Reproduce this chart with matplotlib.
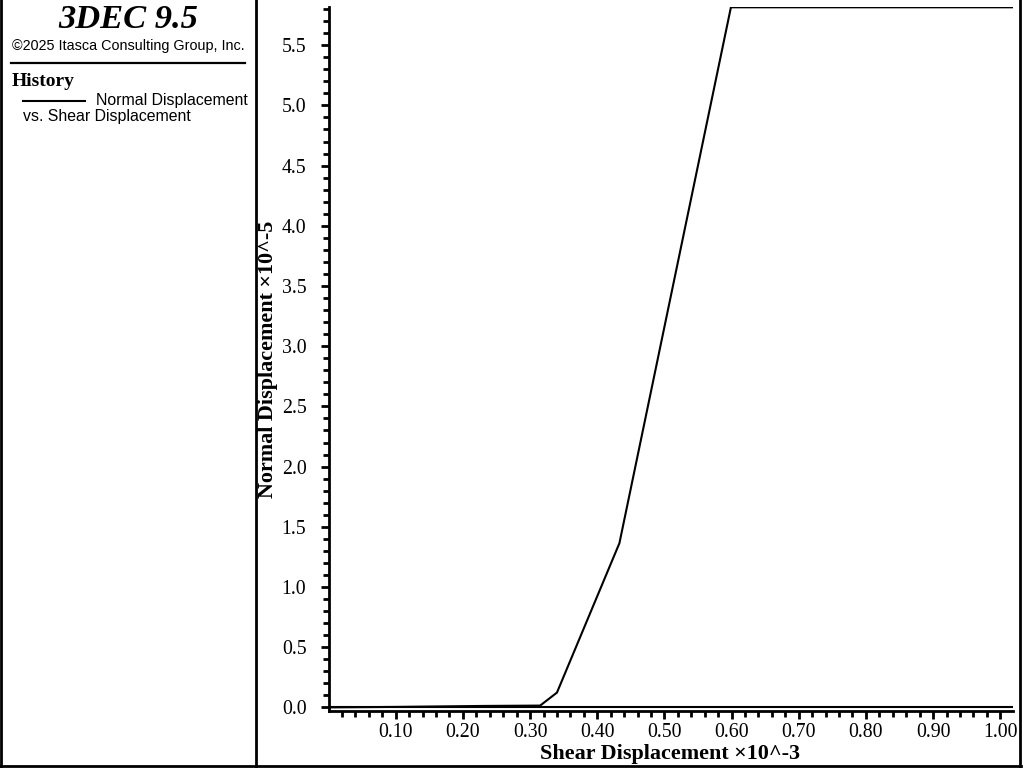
import matplotlib.pyplot as plt
import numpy as np
from matplotlib.lines import Line2D
from matplotlib.ticker import FixedLocator, FormatStrFormatter

# history: shear displacement (x1e-3) vs normal displacement (x1e-5)
shear_disp = [0.0, 0.10, 0.23, 0.315, 0.340, 0.433, 0.599, 1.019]
normal_disp = [0.0, 0.004, 0.012, 0.015, 0.123, 1.364, 5.815, 5.815]

x_major = [0.10, 0.20, 0.30, 0.40, 0.50, 0.60, 0.70, 0.80, 0.90, 1.00]
y_major = [0.0, 0.5, 1.0, 1.5, 2.0, 2.5, 3.0, 3.5, 4.0, 4.5, 5.0, 5.5]

serif = 'Liberation Serif'
sans = 'Liberation Sans'

W, H = 1024, 768
fig = plt.figure(figsize=(W / 100, H / 100), dpi=100)

# axes placed in pixel terms of the reference
left, right, top, bottom = 328.6, 1013, 7.3, 711
ax = fig.add_axes([left / W, (H - bottom) / H, (right - left) / W, (bottom - top) / H])

ax.plot(shear_disp, normal_disp, color='black', lw=1.5, solid_joinstyle='miter')
ax.axhline(0.0, color='black', lw=1.5)

ax.set_xlim(0, max(shear_disp))
ax.set_ylim(-0.03, max(normal_disp))

for side in ['top', 'right']:
    ax.spines[side].set_visible(False)
for side in ['left', 'bottom']:
    ax.spines[side].set_linewidth(2)

ax.xaxis.set_major_locator(FixedLocator(x_major))
ax.xaxis.set_minor_locator(FixedLocator([v for v in np.arange(0.02, 1.02, 0.02)
                                         if abs(v * 10 - round(v * 10)) > 1e-6]))
ax.xaxis.set_major_formatter(FormatStrFormatter('%.2f'))
ax.yaxis.set_major_locator(FixedLocator(y_major))
ax.yaxis.set_minor_locator(FixedLocator([v for v in np.arange(0.1, 5.85, 0.1)
                                         if abs(v * 2 - round(v * 2)) > 1e-6]))
ax.yaxis.set_major_formatter(FormatStrFormatter('%.1f'))

ax.tick_params(which='major', length=6, width=2, direction='out')
ax.tick_params(which='minor', length=4, width=2, direction='out')
ax.tick_params(axis='y', which='major', pad=10)
ax.tick_params(axis='x', which='major', pad=2.5)
for lab in ax.get_xticklabels() + ax.get_yticklabels():
    lab.set_fontfamily(serif)
    lab.set_fontsize(14.3)

ax.set_xlabel('Shear Displacement \u00d710^-3', fontfamily=serif, fontsize=15.9,
              fontweight='bold', va='center')
ax.xaxis.set_label_coords(0.4988, (711 - 753.5) / (711 - 7.3))
ax.set_ylabel('Normal Displacement \u00d710^-5', fontfamily=serif, fontsize=15.9,
              fontweight='bold', va='center')
ax.yaxis.set_label_coords((268 - left) / (right - left), 0.5)

# left info panel
def px_line(x0, y0, x1, y1, lw=2):
    fig.add_artist(Line2D([x0 / W, x1 / W], [1 - y0 / H, 1 - y1 / H],
                          transform=fig.transFigure, color='black', lw=lw))

px_line(1, 0, 1, 767)
px_line(256, 0, 256, 767)
px_line(0, 766, 1021, 766)
px_line(1019.5, 0, 1019.5, 767)
px_line(11, 63, 245, 63, lw=1.6)
px_line(23, 101, 85, 101, lw=1.5)

fig.text(128 / W, 1 - 19 / H, '3DEC 9.5', fontfamily=serif, fontsize=24.8,
         fontweight='bold', fontstyle='italic', ha='center', va='center')
fig.text(128 / W, 1 - 46 / H, '\u00a92025 Itasca Consulting Group, Inc.',
         fontfamily=sans, fontsize=10.4, ha='center', va='center')
fig.text(12 / W, 1 - 82 / H, 'History', fontfamily=serif, fontsize=14,
         fontweight='bold', ha='left', va='center')
fig.text(96 / W, 1 - 100 / H, 'Normal Displacement', fontfamily=sans,
         fontsize=11.4, ha='left', va='center')
fig.text(23 / W, 1 - 117 / H, 'vs. Shear Displacement', fontfamily=sans,
         fontsize=11.4, ha='left', va='center')

fig.savefig('out.png', dpi=100)
